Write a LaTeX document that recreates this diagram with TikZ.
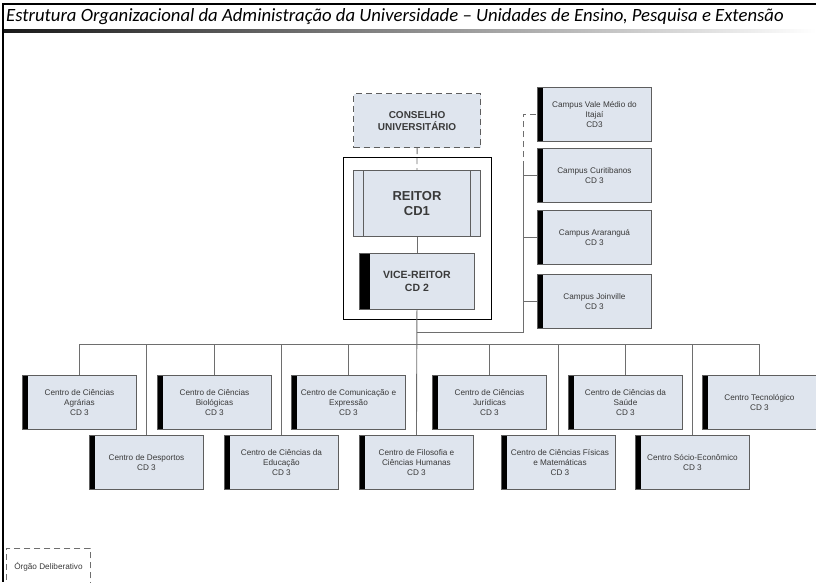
\documentclass[tikz,border=0pt]{standalone}
\usepackage{fontspec}
\setmainfont{Liberation Sans}
\newfontfamily\titlefont{Carlito}
\definecolor{boxfill}{HTML}{DFE5EE}
\definecolor{boxline}{HTML}{5E5E5E}
\definecolor{linegray}{HTML}{6E6E6E}
\definecolor{boxtext}{HTML}{3A3A3A}
\begin{document}
\begin{tikzpicture}[x=1pt,y=-1pt,
  box/.style={draw=boxline, fill=boxfill, line width=0.9pt, anchor=north west,
    inner sep=1pt, align=center, text=boxtext, font=\fontsize{8.2}{10}\selectfont},
  unit/.style={box, minimum width=114pt, minimum height=54pt,
    path picture={\fill[black] (path picture bounding box.north west)
      rectangle ([xshift=6pt]path picture bounding box.south west);}},
  conn/.style={draw=linegray, line width=0.9pt},
  deliberative/.style={dash pattern=on 6pt off 4pt}
]
\useasboundingbox (0,0) rectangle (816,582);

% page frame and heading
\draw[black, line width=2.5pt] (3,4) -- (3,582);
\draw[black, line width=2pt] (2,4) -- (816,4);
\shade[left color=black!90, middle color=black!55, right color=white] (4,29.5) rectangle (816,32.5);
\node[anchor=west, inner sep=0, font=\titlefont\itshape\fontsize{18.7}{22}\selectfont] (title) at (6,17)
  {Estrutura Organizacional da Administração da Universidade – Unidades de Ensino, Pesquisa e Extensão};

% rectorate
\node[draw=black, line width=1.2pt, anchor=north west, minimum width=148pt, minimum height=162pt, inner sep=0] (reitoria) at (343,157) {};
\node[box, deliberative, line width=1.2pt, minimum width=127pt, minimum height=54pt,
  font=\bfseries\fontsize{10}{12}\selectfont] (cons) at (353,93) {CONSELHO\\UNIVERSITÁRIO};
\node[box, minimum width=127pt, minimum height=66pt, font=\bfseries\fontsize{13}{15}\selectfont,
  path picture={
    \draw[boxline, line width=0.8pt] ([xshift=10pt]path picture bounding box.north west) -- ([xshift=10pt]path picture bounding box.south west);
    \draw[boxline, line width=0.8pt] ([xshift=-10pt]path picture bounding box.north east) -- ([xshift=-10pt]path picture bounding box.south east);}]
  (reitor) at (353,170) {REITOR\\CD1};
\node[box, minimum width=115pt, minimum height=56pt, font=\bfseries\fontsize{10.5}{13}\selectfont,
  path picture={\fill[black] (path picture bounding box.north west)
      rectangle ([xshift=11pt]path picture bounding box.south west);}]
  (vice) at (359,253) {VICE-REITOR\\CD 2};

% campuses
\node[unit] (c1) at (537,87)  {Campus Vale Médio do\\Itajaí\\CD3};
\node[unit] (c2) at (537,148) {Campus Curitibanos\\CD 3};
\node[unit] (c3) at (537,210) {Campus Araranguá\\CD 3};
\node[unit] (c4) at (537,274) {Campus Joinville\\CD 3};

% centres, upper row
\node[unit] (agr) at (22,375)  {Centro de Ciências\\Agrárias\\CD 3};
\node[unit] (bio) at (157,375) {Centro de Ciências\\Biológicas\\CD 3};
\node[unit] (cce) at (291,375) {Centro de Comunicação e\\Expressão\\CD 3};
\node[unit] (jur) at (432,375) {Centro de Ciências\\Jurídicas\\CD 3};
\node[unit] (sau) at (568,375) {Centro de Ciências da\\Saúde\\CD 3};
\node[unit] (tec) at (702,375) {Centro Tecnológico\\CD 3};
% centres, lower row
\node[unit] (des) at (89,435)  {Centro de Desportos\\CD 3};
\node[unit] (edu) at (224,435) {Centro de Ciências da\\Educação\\CD 3};
\node[unit] (fil) at (359,435) {Centro de Filosofia e\\Ciências Humanas\\CD 3};
\node[unit] (fis) at (501,435) {\hspace*{3pt}Centro de Ciências Físicas\\\hspace*{3pt}e Matemáticas\\\hspace*{3pt}CD 3};
\node[unit] (soc) at (635,435) {Centro Sócio-Econômico\\CD 3};

% legend
\node[draw=linegray, deliberative, line width=0.9pt, anchor=north west, minimum width=84pt,
  minimum height=36pt, inner sep=1pt, text=boxtext, font=\fontsize{8.2}{10}\selectfont]
  (legend) at (6,548) {Órgão Deliberativo};

% connectors
\draw[conn, deliberative] (cons.south) -- (reitor.north);
\draw[conn] (reitor.south) -- (vice.north);
\draw[conn] (vice.south) -- (fil.north);

\coordinate (cj) at (416.5,332);
\coordinate (cb) at (523,332);
\coordinate (cbtop) at (523,167);
\draw[conn] (cj) -- (cb) -- (cbtop);
\draw[conn, deliberative] (cbtop) |- (c1.west);
\draw[conn] (cb) |- (c2.west);
\draw[conn] (cb) |- (c3.west);
\draw[conn] (cb) |- (c4.west);

\coordinate (bus) at (0,344);
\draw[conn] (agr.north |- bus) -- (tec.north |- bus);
\foreach \n in {agr,bio,cce,jur,sau,tec,des,edu,fis,soc}
  \draw[conn] (\n.north |- bus) -- (\n.north);
\end{tikzpicture}
\end{document}
